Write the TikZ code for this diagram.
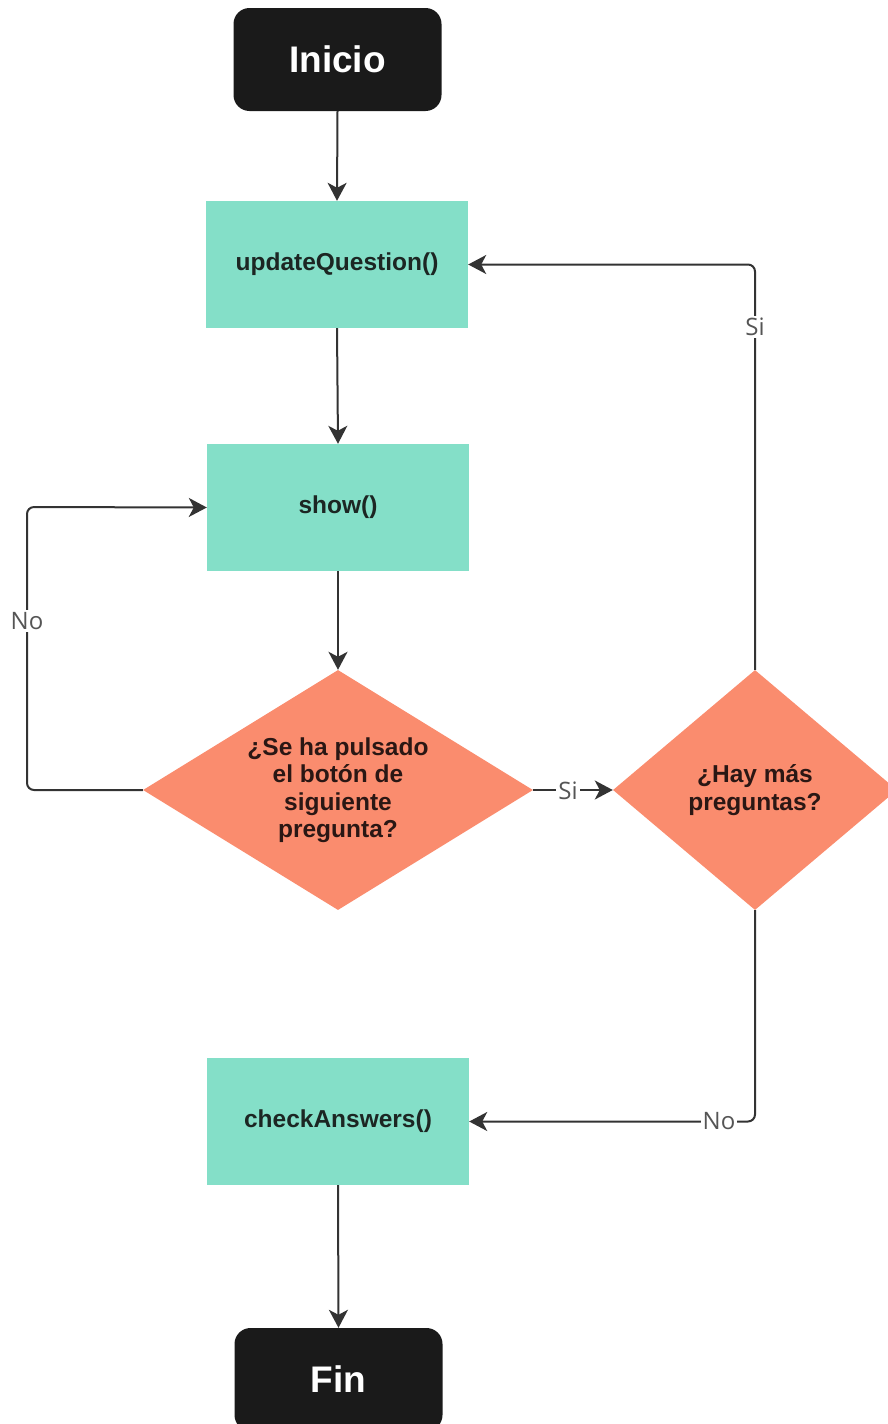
\documentclass[tikz,border=0pt]{standalone}
\usepackage{fontspec}
\setmainfont{Liberation Sans}
\newfontfamily\lblfont{Open Sans}
\usetikzlibrary{shapes.geometric,arrows.meta}
\definecolor{procfill}{HTML}{84DFC8}
\definecolor{decfill}{HTML}{FA8C6E}
\definecolor{termfill}{HTML}{1A1A1A}
\definecolor{linecol}{HTML}{333333}
\definecolor{lblcol}{HTML}{555555}
\definecolor{boxtext}{HTML}{1C2623}
\definecolor{dectext}{HTML}{2A1714}
\tikzset{
  terminal/.style={rectangle, rounded corners=16, fill=termfill, minimum width=208, minimum height=103,
    inner sep=0, text=white, font=\fontsize{37}{40}\selectfont\bfseries},
  process/.style={rectangle, fill=procfill, minimum width=262, minimum height=127, inner sep=0,
    text=boxtext, font=\fontsize{24.5}{27.5}\selectfont\bfseries},
  decision/.style={diamond, aspect=1.625, fill=decfill, inner sep=0},
  dectxt/.style={align=center, text=dectext, font=\fontsize{24.5}{27.5}\selectfont\bfseries},
  conn/.style={draw=linecol, line width=2, rounded corners=7,
    -{Stealth[length=18pt, width=19pt, inset=5pt]}},
  lbl/.style={fill=white, text=lblcol, inner sep=2, font=\lblfont\fontsize{24}{26}\selectfont}
}
\begin{document}
\begin{tikzpicture}[x=1pt,y=-1pt]
\useasboundingbox (0,0) rectangle (888,1424);
\clip (0,0) rectangle (888,1424);

% terminals
\node[terminal] (ini) at (337.5,59.5) {Inicio};
\node[terminal] (fin) at (338.5,1379.5) {Fin};

% process boxes
\node[process] (uq) at (337,264.5) {updateQuestion()};
\node[process] (sh) at (338,507.5) {show()};
\node[process] (ca) at (338,1121.5) {checkAnswers()};

% decisions
\node[decision, minimum width=390, minimum height=240] (d1) at (338,790) {};
\node[dectxt] at (d1) {¿Se ha pulsado\\el botón de\\siguiente\\pregunta?};
\node[decision, minimum width=284, minimum height=240] (d2) at (755,790) {};
\node[dectxt] at (d2) {¿Hay más\\preguntas?};

% bend point of the left loop
\coordinate (lbend) at (27,507);

% main flow
\draw[conn] (ini.south) -- (uq.north);
\draw[conn] (uq.south) -- (sh.north);
\draw[conn] (sh.south) -- (d1.north);
\draw[conn] (d1.east) -- (d2.west);
\draw[conn] (ca.south) -- (fin.north);

% loops
\draw[conn] (d1.west) -| (lbend) -- (sh.west);
\draw[conn] (d2.north) |- (uq.east);
\draw[conn] (d2.south) |- (ca.east);

% connector labels
\node[lbl] (lno1) at (27,621) {No};
\node[lbl] (lsi1) at (568,791) {Si};
\node[lbl] (lsi2) at (755,327) {Si};
\node[lbl] (lno2) at (719,1121) {No};
\end{tikzpicture}
\end{document}
